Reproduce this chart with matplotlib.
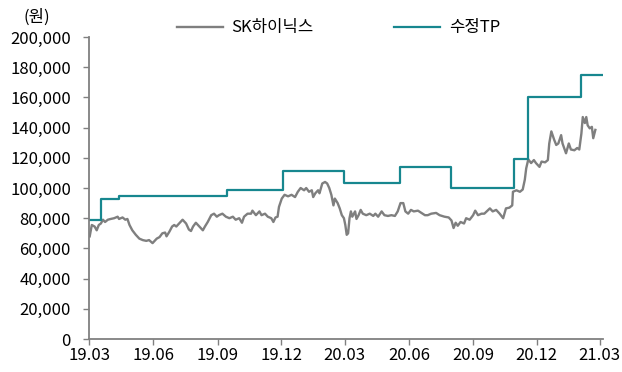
import matplotlib
matplotlib.use("Agg")
import matplotlib.pyplot as plt
import pandas as pd

plt.rcParams['font.family'] = ['Noto Sans CJK KR', 'DejaVu Sans']

# SK hynix share price (won)
price_dates = [
    "2019-03-02", "2019-03-05", "2019-03-09", "2019-03-12", "2019-03-15", "2019-03-18", "2019-03-21",
    "2019-03-24", "2019-03-28", "2019-04-01", "2019-04-06", "2019-04-11", "2019-04-13", "2019-04-18",
    "2019-04-22", "2019-04-25", "2019-04-28", "2019-05-02", "2019-05-07", "2019-05-12", "2019-05-17",
    "2019-05-22", "2019-05-26", "2019-05-31", "2019-06-02", "2019-06-06", "2019-06-10", "2019-06-14",
    "2019-06-18", "2019-06-20", "2019-06-24", "2019-06-28", "2019-07-01", "2019-07-04", "2019-07-08",
    "2019-07-13", "2019-07-18", "2019-07-22", "2019-07-25", "2019-07-28", "2019-08-01", "2019-08-06",
    "2019-08-11", "2019-08-14", "2019-08-18", "2019-08-23", "2019-08-27", "2019-08-31", "2019-09-03",
    "2019-09-08", "2019-09-13", "2019-09-18", "2019-09-23", "2019-09-27", "2019-10-02", "2019-10-06",
    "2019-10-09", "2019-10-14", "2019-10-19", "2019-10-21", "2019-10-26", "2019-10-31", "2019-11-03",
    "2019-11-08", "2019-11-12", "2019-11-17", "2019-11-20", "2019-11-23", "2019-11-26", "2019-11-28",
    "2019-12-02", "2019-12-06", "2019-12-11", "2019-12-16", "2019-12-21", "2019-12-25", "2019-12-29",
    "2020-01-03", "2020-01-06", "2020-01-10", "2020-01-14", "2020-01-16", "2020-01-19", "2020-01-23",
    "2020-01-25", "2020-01-29", "2020-02-02", "2020-02-05", "2020-02-08", "2020-02-11", "2020-02-14",
    "2020-02-16", "2020-02-20", "2020-02-23", "2020-02-26", "2020-02-29", "2020-03-02", "2020-03-04",
    "2020-03-06", "2020-03-08", "2020-03-10", "2020-03-12", "2020-03-16", "2020-03-18", "2020-03-21",
    "2020-03-24", "2020-03-27", "2020-04-01", "2020-04-06", "2020-04-11", "2020-04-14", "2020-04-18",
    "2020-04-23", "2020-04-27", "2020-05-02", "2020-05-07", "2020-05-12", "2020-05-16", "2020-05-20",
    "2020-05-24", "2020-05-27", "2020-05-31", "2020-06-04", "2020-06-08", "2020-06-14", "2020-06-19",
    "2020-06-24", "2020-06-28", "2020-07-03", "2020-07-10", "2020-07-15", "2020-07-22", "2020-07-28",
    "2020-08-01", "2020-08-04", "2020-08-07", "2020-08-10", "2020-08-14", "2020-08-19", "2020-08-22",
    "2020-08-27", "2020-09-01", "2020-09-04", "2020-09-08", "2020-09-13", "2020-09-17", "2020-09-25",
    "2020-09-29", "2020-10-04", "2020-10-09", "2020-10-14", "2020-10-18", "2020-10-23", "2020-10-27",
    "2020-10-28", "2020-11-02", "2020-11-07", "2020-11-11", "2020-11-14", "2020-11-16", "2020-11-19",
    "2020-11-23", "2020-11-27", "2020-11-30", "2020-12-05", "2020-12-08", "2020-12-13", "2020-12-17",
    "2020-12-19", "2020-12-22", "2020-12-26", "2020-12-29", "2021-01-01", "2021-01-05", "2021-01-07",
    "2021-01-12", "2021-01-16", "2021-01-19", "2021-01-24", "2021-01-28", "2021-01-31", "2021-02-03",
    "2021-02-05", "2021-02-08", "2021-02-10", "2021-02-12", "2021-02-15", "2021-02-18", "2021-02-20",
    "2021-02-23",
]
price_values = [
    68000, 75500, 74500, 72000, 75500, 76500, 79000,
    77500, 79000, 79500, 80000, 81000, 79500, 80500,
    79000, 79500, 75500, 72000, 69000, 66500, 65500,
    65000, 65500, 63500, 64500, 66500, 67500, 70000,
    70500, 68000, 71000, 74500, 75500, 74500, 76500,
    79000, 76500, 72500, 71500, 74500, 77000, 74500,
    72000, 74500, 77500, 82000, 83000, 81000, 82000,
    83000, 81000, 80000, 81000, 79000, 80000, 77000,
    81000, 83000, 83000, 85000, 82000, 84500, 82000,
    83000, 81000, 80000, 77500, 80500, 81000, 87500,
    93000, 95500, 94500, 95500, 94000, 97500, 100000,
    98500, 100000, 97500, 98500, 94000, 96500, 98500,
    96500, 103000, 104000, 103000, 100000, 95500, 88500,
    93000, 90000, 86500, 82000, 80000, 75500, 69000,
    70000, 80000, 84500, 81000, 84500, 79500, 82000,
    85500, 83000, 82000, 83000, 81500, 83000, 81000,
    84500, 82000, 81500, 82000, 81500, 84500, 90000,
    90000, 84500, 83000, 85500, 84500, 85000, 83500,
    82000, 82000, 83000, 83500, 82000, 81000, 80500,
    78500, 73500, 77000, 75000, 77500, 76500, 80000,
    79000, 82000, 85000, 82000, 83000, 83000, 86500,
    84500, 85500, 83000, 80000, 86500, 87000, 88500,
    97500, 98500, 97500, 99000, 105500, 113000, 119000,
    116500, 118500, 116500, 114000, 117500, 117000, 118500,
    129500, 137500, 132000, 128500, 129500, 135000, 129500,
    123000, 129500, 125500, 125000, 126500, 125500, 136000,
    147000, 143000, 147000, 141500, 139500, 140500, 133000,
    138500,
]

# Revised target price (won): change dates and levels
tp_dates = ["2019-03-01", "2019-03-18", "2019-04-13", "2019-09-14", "2019-12-04",
            "2020-02-29", "2020-05-19", "2020-08-01", "2020-10-30", "2020-11-18",
            "2021-02-03", "2021-03-06"]
tp_values = [79000, 93000, 94500, 98500, 111000,
             103500, 114000, 100000, 119000, 160000,
             175000, 175000]

tick_dates = ["2019-03-01", "2019-06-01", "2019-09-01", "2019-12-01", "2020-03-01",
              "2020-06-01", "2020-09-01", "2020-12-01", "2021-03-01"]
tick_labels = ["19.03", "19.06", "19.09", "19.12", "20.03", "20.06", "20.09", "20.12", "21.03"]
y_ticks = list(range(0, 200001, 20000))

FS = 12

fig = plt.figure(figsize=(6.22, 3.72), dpi=100)
ax = fig.add_axes([0.1431, 0.0887, 0.8264, 0.8118])

ax.plot(pd.to_datetime(price_dates), price_values, color="#7f7f7f", lw=1.7,
        label="SK하이닉스")
ax.step(pd.to_datetime(tp_dates), tp_values, where="post", color="#17878f", lw=1.6,
        label="수정TP")

ax.set_ylim(0, 200000)
ax.set_xlim(pd.Timestamp("2019-03-01"), pd.Timestamp("2021-03-06"))
ax.set_yticks(y_ticks)
ax.set_yticklabels([f"{v:,}" for v in y_ticks], fontweight="light")
ax.set_xticks(pd.to_datetime(tick_dates))
ax.set_xticklabels(tick_labels, fontweight="light")

for s in ["top", "right"]:
    ax.spines[s].set_visible(False)
for s in ["left", "bottom"]:
    ax.spines[s].set_color("#808080")
    ax.spines[s].set_linewidth(1.3)
ax.tick_params(axis="both", direction="out", length=4, width=1, color="#808080",
               labelsize=FS, labelcolor="#000000")
ax.tick_params(axis="y", pad=9)
ax.tick_params(axis="x", pad=2)

fig.text(0.059, 0.953, "(원)", fontsize=FS, ha="center", va="center", fontweight="light")

leg = ax.legend(loc="center", bbox_to_anchor=(0.485, 1.03), ncol=2, frameon=False,
                prop={"size": FS, "weight": "light"}, handlelength=2.8,
                columnspacing=4.8, handletextpad=0.5)

fig.savefig("out.png", dpi=100)
